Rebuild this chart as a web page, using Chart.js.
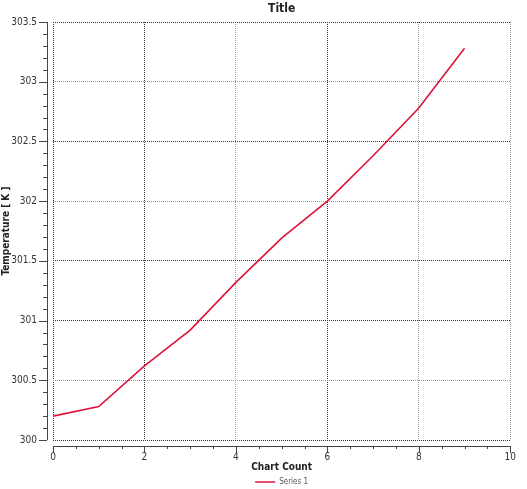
<!DOCTYPE html>
<html>
<head>
<meta charset="utf-8">
<script src="https://cdn.jsdelivr.net/npm/chart.js@4/dist/chart.umd.min.js"></script>
<style>
  body { margin: 0; background: #fff; }
  #wrap { width: 527px; height: 489px; }
</style>
</head>
<body>
<div id="wrap">
  <canvas id="tempChart" width="527" height="489"></canvas>
</div>
<script>
  // values
  const chartCount = [0, 1, 2, 3, 4, 5, 6, 7, 8, 9];
  const temperature = [300.2, 300.28, 300.62, 300.92, 301.32, 301.69, 302.0, 302.38, 302.78, 303.28];
  const seriesName = "Series 1";

  const FONT = "'DejaVu Sans Condensed', 'DejaVu Sans', sans-serif";
  const darkY = [300, 301, 301.5, 302.5, 303.5];
  const darkX = [0, 2, 6];

  // outer axis lines with major + minor ticks, offset from the plot
  const axisTicks = {
    id: "axisTicks",
    afterDraw(chart) {
      const { ctx, chartArea: a } = chart;
      const xs = chart.scales.x, ys = chart.scales.y;
      const axX = a.left - 6, axY = a.bottom + 6;
      ctx.save();
      ctx.strokeStyle = "#444";
      ctx.lineWidth = 1;
      ctx.beginPath();
      ctx.moveTo(axX + 0.5, a.top);
      ctx.lineTo(axX + 0.5, a.bottom);
      ctx.moveTo(a.left, axY + 0.5);
      ctx.lineTo(a.right, axY + 0.5);
      for (let i = 0; i <= 35; i++) {
        const v = 300 + i * 0.1;
        const py = Math.round(ys.getPixelForValue(v)) + 0.5;
        const len = i % 5 === 0 ? 8 : 4;
        ctx.moveTo(axX - len, py);
        ctx.lineTo(axX, py);
      }
      for (let i = 0; i <= 20; i++) {
        const v = i * 0.5;
        const px = Math.round(xs.getPixelForValue(v)) + 0.5;
        const len = i % 4 === 0 ? 7 : 3;
        ctx.moveTo(px, axY);
        ctx.lineTo(px, axY + len);
      }
      ctx.stroke();
      ctx.restore();
    }
  };

  new Chart(document.getElementById("tempChart"), {
    type: "line",
    data: {
      datasets: [{
        label: seriesName,
        data: chartCount.map((c, i) => ({ x: c, y: temperature[i] })),
        borderColor: "#dc143c",
        backgroundColor: "#dc143c",
        borderWidth: 1.6,
        pointRadius: 0,
        tension: 0
      }]
    },
    options: {
      responsive: false,
      animation: false,
      layout: { padding: { left: 0, right: 13, top: 0, bottom: -7 } },
      plugins: {
        title: {
          display: true,
          fullSize: false,
          text: "Title",
          color: "#222",
          font: { family: FONT, size: 12, weight: "bold" },
          padding: { top: 1, bottom: 6 }
        },
        legend: {
          position: "bottom",
          fullSize: false,
          labels: {
            usePointStyle: true,
            pointStyle: "line",
            pointStyleWidth: 20,
            color: "#555",
            font: { family: FONT, size: 8 },
            padding: 1
          }
        },
        tooltip: { enabled: false }
      },
      scales: {
        x: {
          type: "linear",
          min: 0,
          max: 10,
          ticks: {
            stepSize: 2,
            color: "#333",
            padding: 11,
            font: { family: FONT, size: 10 }
          },
          grid: {
            drawTicks: false,
            color: (c) => darkX.includes(c.tick && c.tick.value) ? "#333" : "#9a9a9a"
          },
          border: { display: false, dash: [1, 1] },
          title: {
            display: true,
            text: "Chart Count",
            color: "#222",
            font: { family: FONT, size: 10, weight: "bold" },
            padding: { top: 0, bottom: 4 }
          },
          afterFit(scale) { scale.height = 37; }
        },
        y: {
          min: 300,
          max: 303.5,
          ticks: {
            stepSize: 0.5,
            color: "#333",
            padding: 16,
            font: { family: FONT, size: 10 },
            callback: (v) => String(Math.round(v * 10) / 10)
          },
          grid: {
            drawTicks: false,
            color: (c) => darkY.includes(c.tick && c.tick.value) ? "#333" : "#9a9a9a"
          },
          border: { display: false, dash: [1, 1] },
          title: {
            display: true,
            text: "Temperature [ K ]",
            color: "#222",
            font: { family: FONT, size: 10, weight: "bold" },
            padding: 0
          },
          afterFit(scale) { scale.width = 53; }
        }
      }
    },
    plugins: [axisTicks]
  });
</script>
</body>
</html>
